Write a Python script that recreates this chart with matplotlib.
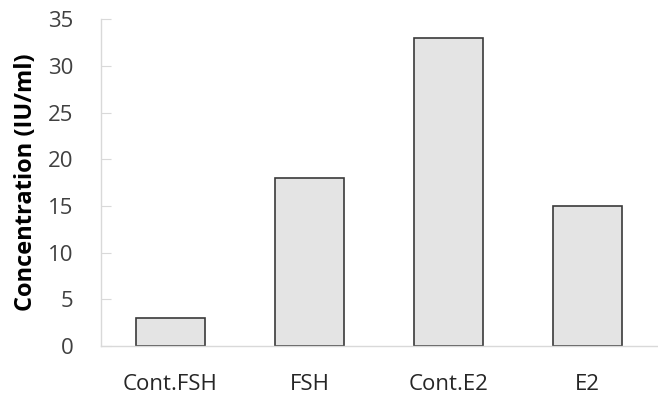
import matplotlib.pyplot as plt

# Data
groups = ["Cont.FSH", "FSH", "Cont.E2", "E2"]
conc = [3, 18, 33, 15]
yticks = [0, 5, 10, 15, 20, 25, 30, 35]

plt.rcParams['font.family'] = ['Open Sans', 'DejaVu Sans']

fig = plt.figure(figsize=(6.58, 4.05), dpi=100)
ax = fig.add_axes([0.1535, 0.1457, 0.845, 0.807])

x = list(range(len(groups)))
ax.bar(x, conc, width=0.5, color="#e4e4e4", edgecolor="#3a3a3a", linewidth=1.2)

ax.set_xlim(-0.5, len(groups) - 0.5)
ax.set_ylim(0, 35)
ax.set_yticks(yticks)
ax.set_xticks(x)
ax.set_xticklabels(groups)

for s in ["top", "right"]:
    ax.spines[s].set_visible(False)
for s in ["left", "bottom"]:
    ax.spines[s].set_color("#d9d9d9")
    ax.spines[s].set_linewidth(1.0)

ax.tick_params(axis="y", direction="in", length=7, color="#d9d9d9",
               labelsize=16, labelcolor="#404040", pad=20)
ax.tick_params(axis="x", length=0, labelsize=16, labelcolor="#262626", pad=20)

ax.set_ylabel("Concentration (IU/ml)", fontsize=17, fontweight="bold", labelpad=7)

plt.savefig("out.png", dpi=100)
